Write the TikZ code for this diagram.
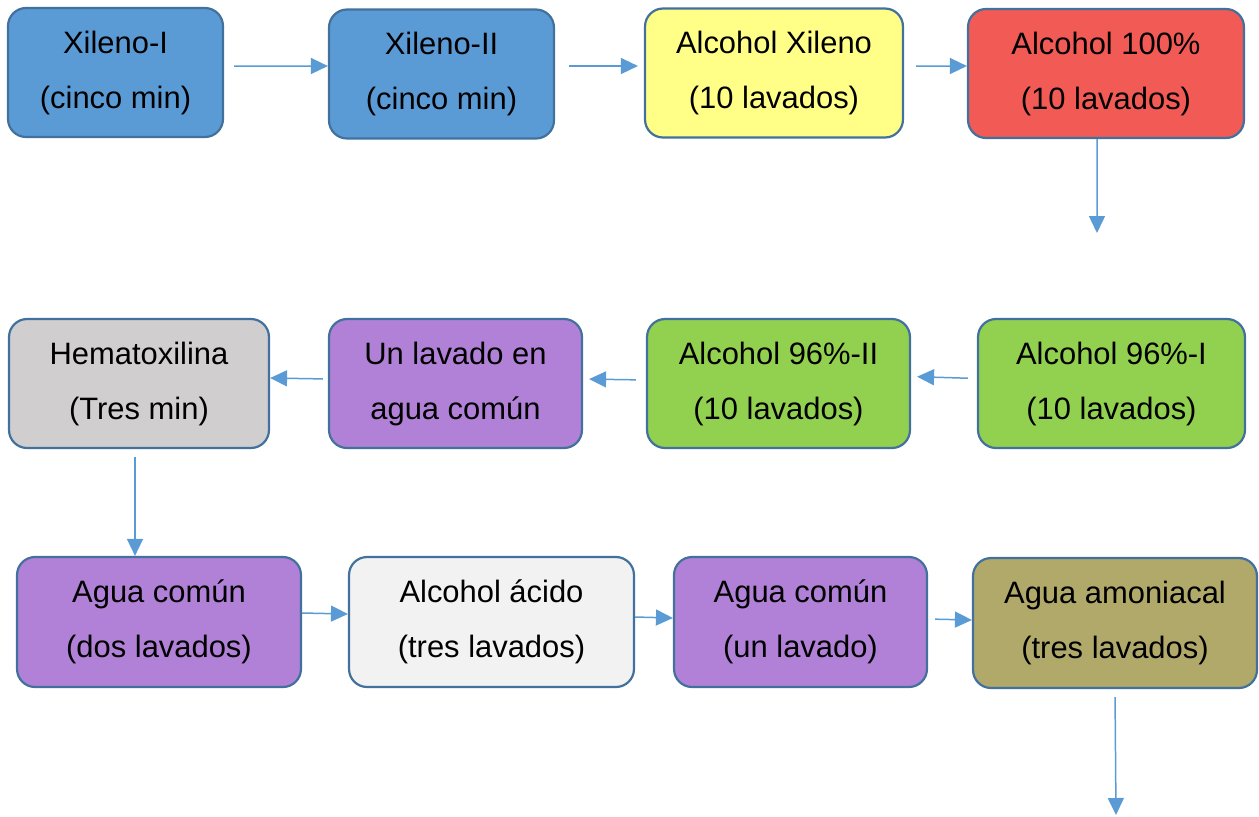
\documentclass[tikz,border=0pt]{standalone}
\usepackage{fontspec}
\setmainfont{Liberation Sans}
\usetikzlibrary{arrows.meta, positioning}

\definecolor{boxline}{HTML}{41719C}
\definecolor{arrowblue}{HTML}{5B9BD5}
\definecolor{xilblue}{HTML}{5B9BD5}
\definecolor{alcyellow}{HTML}{FFFF88}
\definecolor{alcred}{HTML}{F25A55}
\definecolor{alcgreen}{HTML}{92D050}
\definecolor{aguapurple}{HTML}{B180D7}
\definecolor{hemagray}{HTML}{D0CECE}
\definecolor{acidowhite}{HTML}{F2F2F2}
\definecolor{amonolive}{HTML}{B0A96A}

\begin{document}
\begin{tikzpicture}[
    x=0.02cm, y=-0.02cm,
    font=\fontsize{17.6}{31.3}\selectfont,
    stage/.style={
        rectangle, rounded corners=0.36cm,
        minimum height=2.58cm,
        align=center, draw=boxline, line width=1.25pt
    },
    arrow/.style={-{Triangle[length=0.34cm,width=0.32cm]}, line width=0.85pt, color=arrowblue}
]
\useasboundingbox (0,0) rectangle (1259,816);
% fila superior
\node (xil1) [stage, fill=xilblue, minimum width=4.3cm] at (115.5,72.5) {Xileno-I\\(cinco min)};
\node (xil2) [stage, fill=xilblue, minimum width=4.5cm] at (441.5,74) {Xileno-II\\(cinco min)};
\node (alcxil) [stage, fill=alcyellow, minimum width=5.16cm] at (774,73) {Alcohol Xileno\\(10 lavados)};
\node (alc100) [stage, fill=alcred, minimum width=5.52cm] at (1106,73.5) {Alcohol 100\%\\(10 lavados)};
% fila del medio
\node (alc96a) [stage, fill=alcgreen, minimum width=5.34cm] at (1111.5,383.5) {Alcohol 96\%-I\\(10 lavados)};
\node (alc96b) [stage, fill=alcgreen, minimum width=5.26cm] at (778.5,383.5) {Alcohol 96\%-II\\(10 lavados)};
\node (unlav) [stage, fill=aguapurple, minimum width=5.06cm] at (455.5,383.5) {Un lavado en\\agua común};
\node (hema) [stage, fill=hemagray, minimum width=5.2cm] at (139,383.5) {Hematoxilina\\(Tres min)};
% fila inferior
\node (agua1) [stage, fill=aguapurple, minimum width=5.68cm, minimum height=2.6cm] at (159,622) {Agua común\\(dos lavados)};
\node (acido) [stage, fill=acidowhite, minimum width=5.7cm, minimum height=2.6cm] at (491.5,622) {Alcohol ácido\\(tres lavados)};
\node (agua2) [stage, fill=aguapurple, minimum width=5.06cm, minimum height=2.6cm] at (800.5,622) {Agua común\\(un lavado)};
\node (amon) [stage, fill=amonolive, minimum width=5.68cm, minimum height=2.6cm] at (1115,623) {Agua amoniacal\\(tres lavados)};
\coordinate (fin1) at (1097,233);
\coordinate (fin2) at (1116,815);

\draw [arrow, shorten <=0.2cm] ([yshift=0.13cm]xil1.east)--([yshift=0.16cm]xil2.west);
\draw [arrow, shorten <=0.28cm, shorten >=0.12cm] ([yshift=0.16cm]xil2.east)--([yshift=0.14cm]alcxil.west);
\draw [arrow, shorten <=0.24cm] ([yshift=0.14cm]alcxil.east)--([yshift=0.15cm]alc100.west);
\draw [arrow] ([xshift=-0.18cm]alc100.south)--(fin1);
\draw [arrow, shorten <=0.18cm, shorten >=0.12cm] ([yshift=0.1cm]alc96a.west)--([yshift=0.14cm]alc96b.east);
\draw [arrow, shorten <=0.2cm, shorten >=0.12cm] ([yshift=0.07cm]alc96b.west)--([yshift=0.09cm]unlav.east);
\draw [arrow, shorten <=0.1cm] ([yshift=0.09cm]unlav.west)--([yshift=0.11cm]hema.east);
\draw [arrow, shorten <=0.16cm] ([xshift=-0.08cm]hema.south)--([xshift=-0.08cm]hema.south |- agua1.north);
\draw [arrow] ([yshift=0.18cm]agua1.east)--([yshift=0.16cm]acido.west);
\draw [arrow] ([yshift=0.1cm]acido.east)--([yshift=0.08cm]agua2.west);
\draw [arrow, shorten <=0.14cm] ([yshift=0.06cm]agua2.east)--([yshift=0.06cm]amon.west);
\draw [arrow, shorten <=0.16cm] (amon.south)--(fin2);
\end{tikzpicture}
\end{document}
